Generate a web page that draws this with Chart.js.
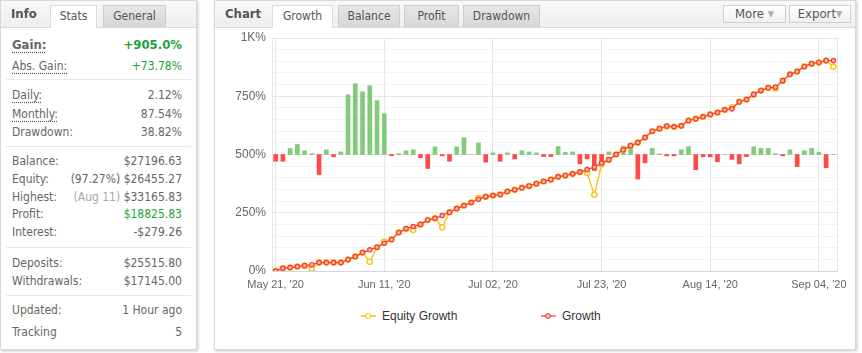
<!DOCTYPE html>
<html>
<head>
<meta charset="utf-8">
<script src="https://cdn.jsdelivr.net/npm/chart.js@4.4.0/dist/chart.umd.min.js"></script>
<style>
body{margin:0;width:862px;height:353px;background:#fff;font-family:"DejaVu Sans Condensed","DejaVu Sans",sans-serif;color:#666;position:relative;overflow:hidden}
.panel{position:absolute;top:0;height:350px;background:#fff;border:1px solid #d8d8d8;box-sizing:border-box;box-shadow:1px 1px 3px rgba(0,0,0,.22)}
.hdr{position:absolute;left:0;right:0;top:0;height:26px;background:linear-gradient(#f8f8f8,#eeeeee);border-bottom:1px solid #d9d9d9}
.ttl{position:absolute;top:5px;font-weight:bold;font-size:13px;line-height:16px;color:#555}
.tab{position:absolute;top:4px;height:22px;box-sizing:border-box;border:1px solid #cdcdcd;border-bottom:none;background:linear-gradient(#e6e6e6,#d7d7d7);font-size:12px;color:#555;text-align:center;line-height:21px}
.tab.on{background:#fff;height:23px;border-color:#dcdcdc}
.row{position:absolute;left:11px;right:14px;height:16px;line-height:16px;font-size:12px;display:flex;justify-content:space-between;white-space:nowrap}
.big{font-size:13px;font-weight:bold}
.u{text-decoration:underline dotted #555;text-underline-offset:3px}
.sep{position:absolute;left:5px;right:5px;height:1px;background:#e8e8e8}
.g{color:#1aa33a}
.lt{color:#a8a8a8}
.btn{position:absolute;top:4px;height:18px;box-sizing:border-box;border:1px solid #d0d0d0;background:linear-gradient(#ffffff,#f0f0f0);font-size:13px;line-height:16px;color:#555;text-align:center}
.btn small{font-size:9px;color:#b0b0b0;vertical-align:1px}
#wrap{position:absolute;left:215px;top:27px;width:632px;height:268px}
.lg{position:absolute;top:308px;height:16px;line-height:16px;font-family:"Liberation Sans",Arial,sans-serif;font-size:12px;color:#333;white-space:nowrap}
.mk{display:inline-block;position:relative;width:15px;height:16px;vertical-align:top;margin-right:6px}
.mk .ln{position:absolute;left:0;right:0;top:7px;height:2px}
.mk .dt{position:absolute;left:4px;top:5px;width:4px;height:4px;border-radius:50%;border:1.5px solid;background:#fff}
</style>
</head>
<body>

<div class="panel" style="left:0;width:197px">
  <div class="hdr">
    <span class="ttl" style="left:10px">Info</span>
    <span class="tab on" style="left:49px;width:47px">Stats</span>
    <span class="tab" style="left:102px;width:63px">General</span>
  </div>
  <div class="row" style="top:36px"><span class="big u">Gain:</span><span class="big g">+905.0%</span></div>
  <div class="row" style="top:57px"><span class="u">Abs. Gain:</span><span class="g">+73.78%</span></div>
  <div class="sep" style="top:78px"></div>
  <div class="row" style="top:86px"><span class="u">Daily:</span><span>2.12%</span></div>
  <div class="row" style="top:105px"><span class="u">Monthly:</span><span>87.54%</span></div>
  <div class="row" style="top:123px"><span>Drawdown:</span><span>38.82%</span></div>
  <div class="sep" style="top:145px"></div>
  <div class="row" style="top:152px"><span>Balance:</span><span>$27196.63</span></div>
  <div class="row" style="top:170px"><span>Equity:</span><span>(97.27%) $26455.27</span></div>
  <div class="row" style="top:188px"><span>Highest:</span><span><span class="lt">(Aug 11)</span> $33165.83</span></div>
  <div class="row" style="top:205px"><span>Profit:</span><span class="g">$18825.83</span></div>
  <div class="row" style="top:223px"><span>Interest:</span><span>-$279.26</span></div>
  <div class="sep" style="top:246px"></div>
  <div class="row" style="top:254px"><span>Deposits:</span><span>$25515.80</span></div>
  <div class="row" style="top:272px"><span>Withdrawals:</span><span>$17145.00</span></div>
  <div class="sep" style="top:294px"></div>
  <div class="row" style="top:301px"><span>Updated:</span><span>1 Hour ago</span></div>
  <div class="row" style="top:323px"><span>Tracking</span><span>5</span></div>
</div>

<div class="panel" style="left:214px;width:642px">
  <div class="hdr">
    <span class="ttl" style="left:10px">Chart</span>
    <span class="tab on" style="left:57px;width:61px">Growth</span>
    <span class="tab" style="left:123px;width:62px">Balance</span>
    <span class="tab" style="left:189px;width:55px">Profit</span>
    <span class="tab" style="left:248px;width:77px">Drawdown</span>
    <span class="btn" style="left:508px;width:63px">More <small>&#9660;</small></span>
    <span class="btn" style="left:574px;width:62px">Export<small>&#9660;</small></span>
  </div>
</div>

<div id="wrap"><canvas id="growthChart" width="632" height="268"></canvas></div>

<div class="lg" style="left:361px"><span class="mk"><span class="ln" style="background:#ffcf40"></span><span class="dt" style="border-color:#ffc000"></span></span>Equity Growth</div>
<div class="lg" style="left:541px"><span class="mk"><span class="ln" style="background:#f88a84"></span><span class="dt" style="border-color:#f0463c;background:#ffb0a8"></span></span>Growth</div>

<script>
/* Growth tab — equity/growth lines + daily bars */
var xTickIndex  = [0, 15, 30, 45, 60, 75];
var xTickLabels = ["May 21, '20", "Jun 11, '20", "Jul 02, '20", "Jul 23, '20", "Aug 14, '20", "Sep 04, '20"];

var growth = [0, 12, 15, 19, 23, 27, 36, 36, 36, 36,
              49, 62, 79, 91, 102, 119, 135, 165, 182, 191,
              200, 219, 226, 238, 252, 268, 281, 294, 308, 319,
              324, 328, 341, 349, 357, 365, 375, 384, 393, 404,
              410, 417, 425, 435, 446, 463, 478, 500, 520, 538,
              551, 573, 600, 611, 622, 619, 623, 646, 653, 662,
              672, 680, 692, 696, 726, 736, 758, 775, 786, 789,
              817, 844, 856, 878, 890, 895, 903, 903];

var equityGrowth = [0, 12, 15, 19, 23, 10, 36, 36, 36, 36,
                    49, 62, 79, 40, 102, 126, 135, 165, 180, 176,
                    200, 219, 226, 188, 252, 268, 281, 294, 313, 319,
                    324, 328, 341, 349, 357, 365, 375, 384, 393, 404,
                    410, 417, 425, 421, 327, 457, 478, 500, 520, 538,
                    551, 573, 600, 611, 620, 619, 623, 646, 653, 662,
                    672, 680, 692, 703, 726, 736, 758, 775, 786, 783,
                    817, 844, 856, 878, 890, 895, 903, 877];

var dailyBars = [-29, -29, 26, 43, 16, 4, -86, 20, -10, 11,
                 256, 304, 269, 295, 231, 175, -5, 4, 16, 20,
                 -14, -60, 33, -6, -29, 33, 72, 0, 50, -33,
                 7, -29, 7, -19, 16, 11, 7, -9, -9, 34,
                 9, 11, -40, -19, -69, -47, 11, 3, 36, 36,
                 -105, -36, 26, 3, -6, -6, 20, 34, -65, -10,
                 -10, -31, 0, -21, -40, -9, 33, 26, 26, 4,
                 -6, 20, -52, 16, 26, 9, -57, 0];

function pts(arr) { return arr.map(function(v, i) { return { x: i, y: v }; }); }

var axisFont = { family: 'Liberation Sans', size: 11 };

new Chart(document.getElementById('growthChart').getContext('2d'), {
    type: 'line',
    data: {
        datasets: [
            { label: 'Growth', data: pts(growth), order: 1, borderColor: '#f4433a', borderWidth: 1.3, tension: 0,
              pointRadius: 2.2, pointBorderWidth: 1.2, pointBorderColor: '#f23d30', pointBackgroundColor: '#ffb4aa' },
            { label: 'Equity Growth', data: pts(equityGrowth), order: 2, borderColor: '#ffc107', borderWidth: 1.3, tension: 0,
              pointRadius: 2.6, pointBorderWidth: 1.3, pointBorderColor: '#ffc000', pointBackgroundColor: '#ffffff' },
            { type: 'bar', label: 'Daily', data: pts(dailyBars), order: 3, yAxisID: 'y2', barThickness: 4,
              backgroundColor: function(c) { return c.raw && c.raw.y < 0 ? '#ff4a4a' : 'rgba(112,196,105,0.88)'; } }
        ]
    },
    options: {
        responsive: false, animation: false, devicePixelRatio: 1,
        layout: { padding: { top: 11, right: 10, bottom: 0, left: 0 } },
        plugins: { legend: { display: false }, tooltip: { enabled: false } },
        scales: {
            x: {
                type: 'linear', min: -0.5, max: 77.5, offset: false,
                afterBuildTicks: function(s) { s.ticks = xTickIndex.map(function(v) { return { value: v }; }); },
                afterFit: function(s) { s.height = 24; s.paddingLeft = 0; s.paddingRight = 0; },
                ticks: { autoSkip: false, maxRotation: 0, padding: 7, color: '#666', font: axisFont,
                         callback: function(v) { return xTickLabels[xTickIndex.indexOf(v)]; } },
                grid: { color: '#e6e6e6', drawTicks: false, offset: false },
                border: { color: '#ccd6eb' }
            },
            y: {
                position: 'left', min: 0, max: 1000,
                afterBuildTicks: function(s) { var t = []; for (var v = 0; v <= 1000; v += 50) t.push({ value: v }); s.ticks = t; },
                afterFit: function(s) { s.width = 57; s.paddingTop = 0; s.paddingBottom = 0; },
                ticks: { autoSkip: false, padding: 6, color: '#666', font: { family: 'Liberation Sans', size: 12 },
                         callback: function(v) { return v % 250 ? '' : (v === 1000 ? '1K%' : v + '%'); } },
                grid: { drawTicks: false,
                        color: function(c) { var v = c.tick ? c.tick.value : 1; return v === 0 ? 'rgba(0,0,0,0)' : (v % 250 ? '#f3f3f3' : '#e6e6e6'); } },
                border: { color: '#e6e6e6' }
            },
            y2: {
                position: 'right', min: -500, max: 500,
                afterFit: function(s) { s.width = 0; s.paddingTop = 0; s.paddingBottom = 0; },
                ticks: { display: false },
                grid: { display: false },
                border: { color: '#e6e6e6' }
            }
        }
    }
});
</script>
</body>
</html>
